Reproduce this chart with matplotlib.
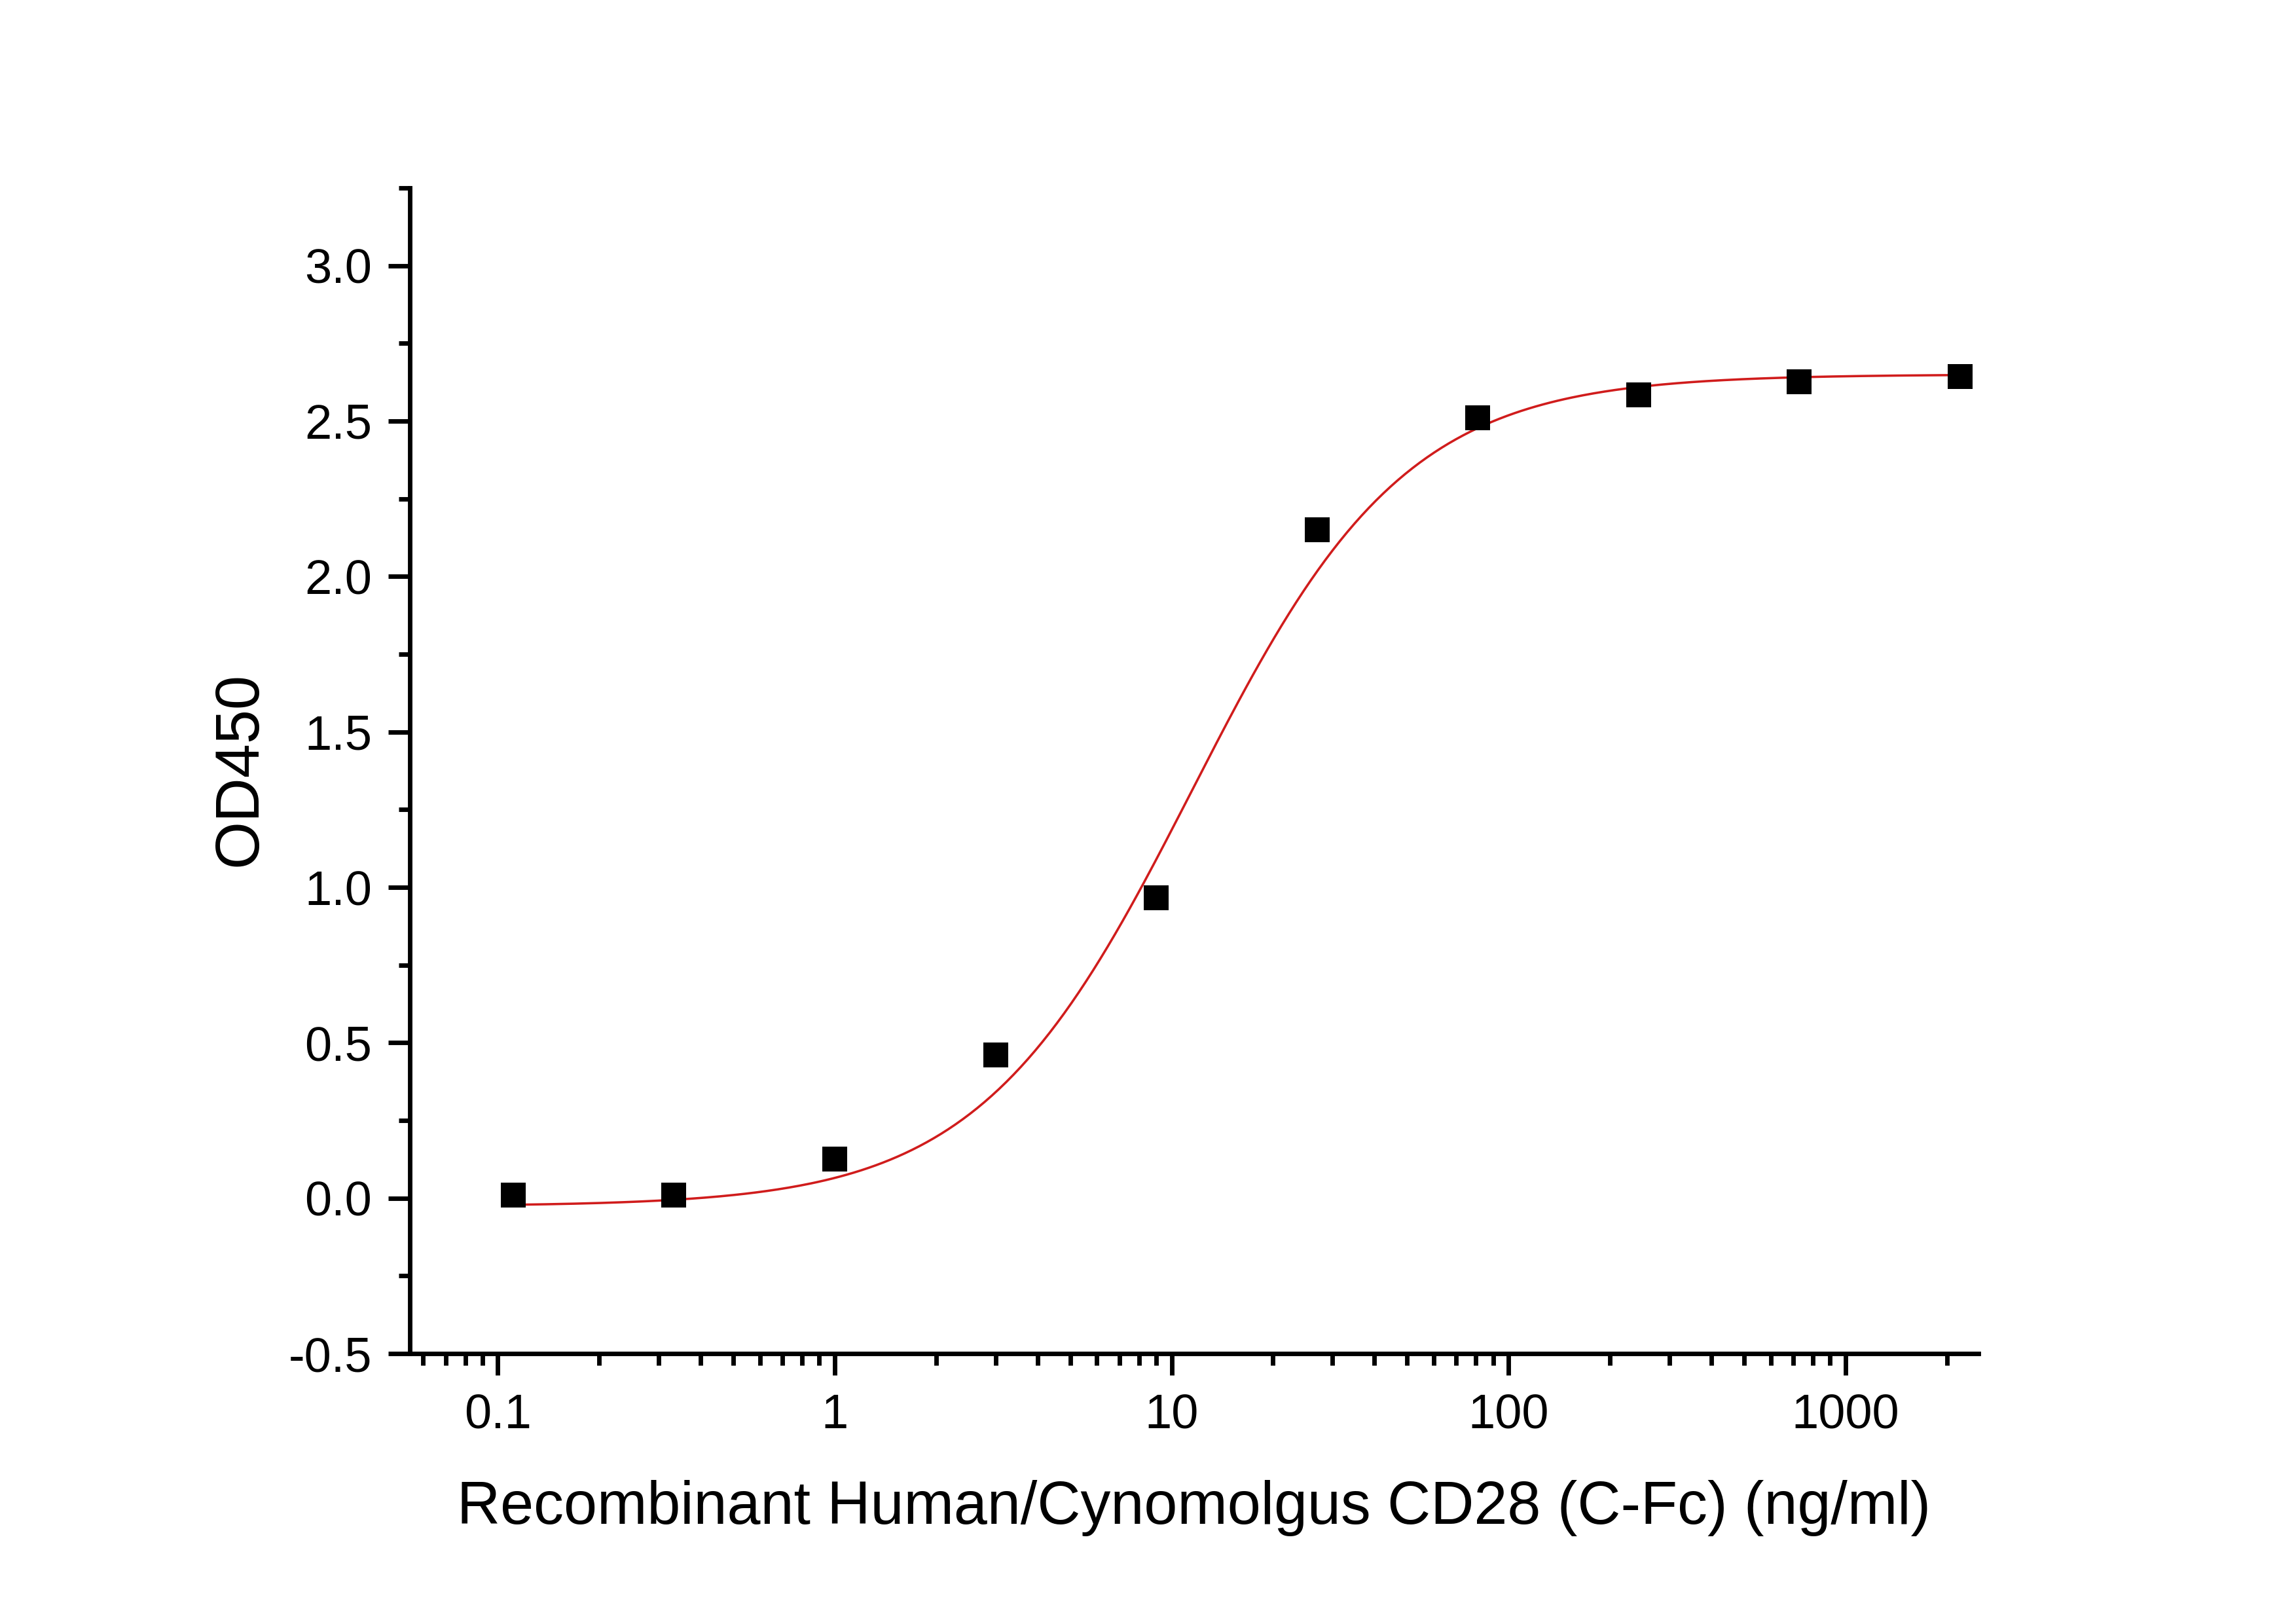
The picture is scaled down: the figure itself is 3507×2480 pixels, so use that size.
import numpy as np
import matplotlib
matplotlib.use("Agg")
import matplotlib.pyplot as plt
from matplotlib.ticker import LogLocator, MultipleLocator, FuncFormatter, NullFormatter

# ---- data ----
concentration = [0.111, 0.333, 1, 3, 9, 27, 81, 243, 729, 2187]   # ng/ml
od450 = [0.01, 0.01, 0.125, 0.46, 0.967, 2.15, 2.51, 2.585, 2.627, 2.644]

# 4-parameter logistic fit parameters
fit_bottom = -0.026
fit_top = 2.65
fit_ec50 = 11.5
fit_hill = 1.37

x_label = "Recombinant Human/Cynomolgus CD28 (C-Fc) (ng/ml)"
y_label = "OD450"
x_tick_values = [0.1, 1, 10, 100, 1000]

plt.rcParams['font.family'] = ['Liberation Sans', 'DejaVu Sans']

fig = plt.figure(figsize=(3507 / 300, 2480 / 300), dpi=300)
ax = fig.add_axes([626 / 3507, 1 - 2067 / 2480, (3022 - 626) / 3507, (2067 - 287) / 2480])

xfit = np.logspace(np.log10(concentration[0]), np.log10(concentration[-1]), 400)
yfit = fit_bottom + (fit_top - fit_bottom) / (1 + (fit_ec50 / xfit) ** fit_hill)
ax.plot(xfit, yfit, color='#d01c1c', lw=0.85, zorder=2)
ax.plot(concentration, od450, 's', color='black', ms=9.1, mew=0, zorder=3)

ax.set_xscale('log')
ax.set_xlim(0.0548, 2483)
ax.set_ylim(-0.5, 3.25)

ax.xaxis.set_major_locator(LogLocator(base=10, numticks=20))
ax.xaxis.set_minor_locator(LogLocator(base=10, subs=np.arange(2, 10), numticks=100))
ax.xaxis.set_major_formatter(FuncFormatter(lambda v, p: '%g' % v))
ax.xaxis.set_minor_formatter(NullFormatter())
ax.set_xticks(x_tick_values)

ax.yaxis.set_major_locator(MultipleLocator(0.5))
ax.yaxis.set_minor_locator(MultipleLocator(0.25))
ax.yaxis.set_major_formatter(FuncFormatter(lambda v, p: '%.1f' % v))

for s in ['top', 'right']:
    ax.spines[s].set_visible(False)
for s in ['left', 'bottom']:
    ax.spines[s].set_linewidth(1.65)

ax.tick_params(which='major', direction='out', length=7.9, width=1.65, labelsize=17.8)
ax.tick_params(which='minor', direction='out', length=4.2, width=1.65)
ax.tick_params(axis='x', which='major', pad=6.5)
ax.tick_params(axis='y', which='major', pad=6.0)

ax.set_xlabel(x_label, fontsize=22)
ax.xaxis.set_label_coords(1823 / 3507, 1 - 2327 / 2480, transform=fig.transFigure)
ax.xaxis.label.set_va('baseline')

ax.set_ylabel(y_label, fontsize=22.5)
ax.yaxis.set_label_coords(367 / 3507, 1 - 1174 / 2480, transform=fig.transFigure)
ax.yaxis.label.set_va('center')

fig.savefig('out.png', dpi=300, facecolor='white')
